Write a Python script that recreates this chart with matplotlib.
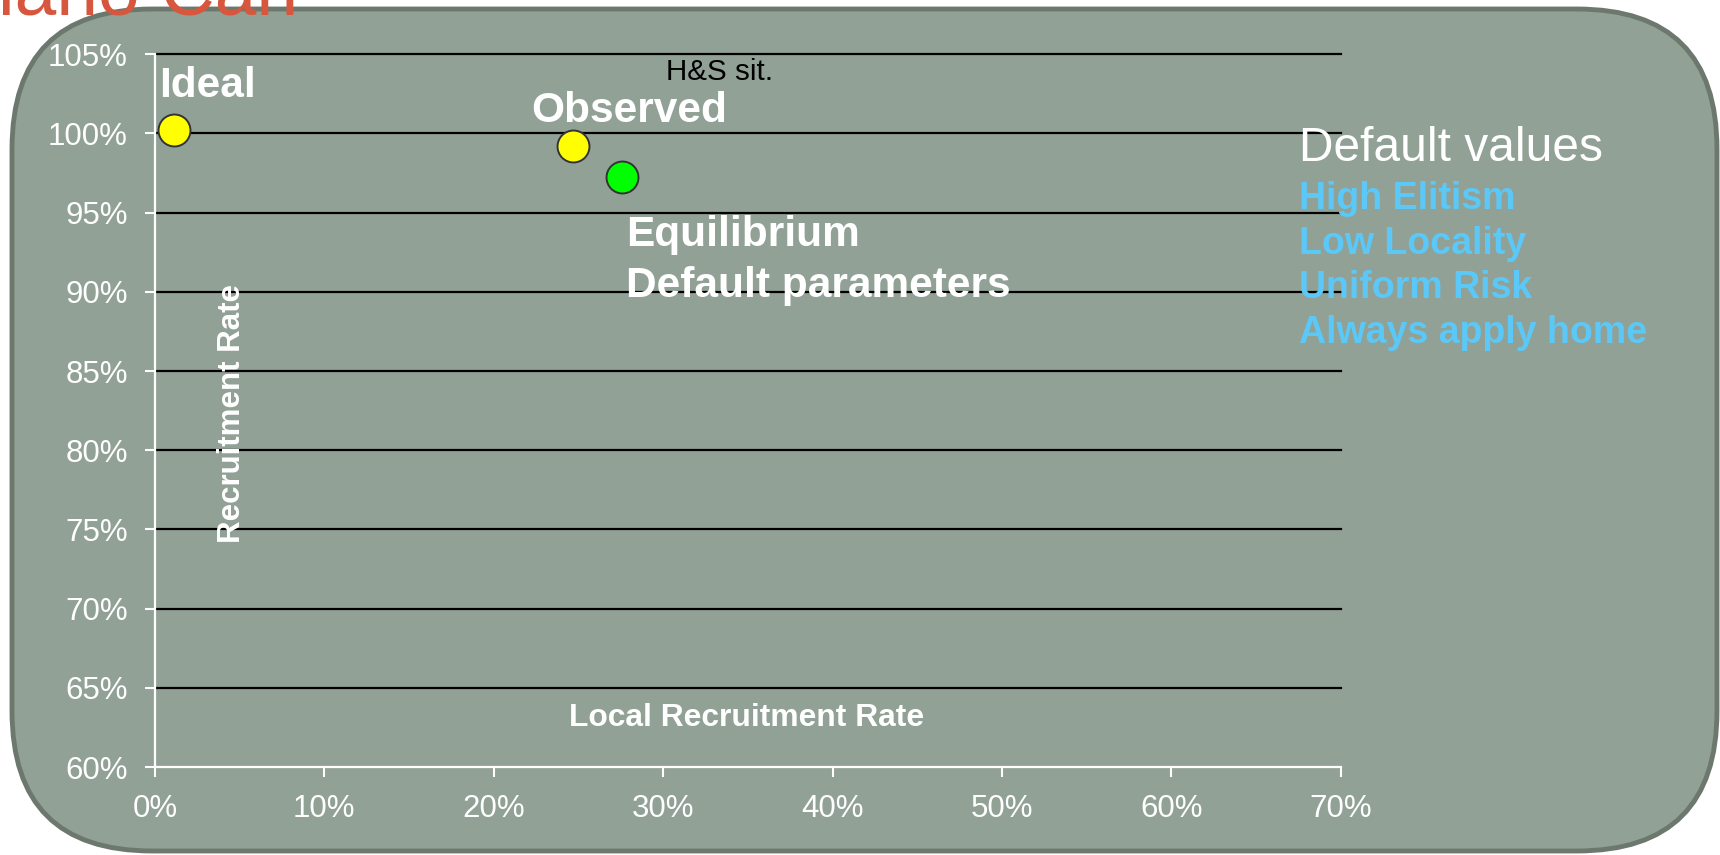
import matplotlib
matplotlib.use("Agg")
import matplotlib.pyplot as plt
from matplotlib.patches import FancyBboxPatch
from matplotlib.ticker import FuncFormatter

plt.rcParams["font.family"] = ["Liberation Sans", "DejaVu Sans"]

# pontos da simulação (taxa local x taxa de recrutamento, em %)
nomes = ["Ideal", "Observed", "Equilibrium"]
taxa_local = [1.1, 24.7, 27.55]
taxa_recrut = [100.2, 99.2, 97.25]
cores = ["#FFFF00", "#FFFF00", "#00FF00"]

xticks = [0, 10, 20, 30, 40, 50, 60, 70]
yticks = [60, 65, 70, 75, 80, 85, 90, 95, 100, 105]

padroes = ["High Elitism", "Low Locality", "Uniform Risk", "Always apply home"]

fundo = "#91A196"
borda = "#6C786E"
azul = "#5BC8F7"

fig = plt.figure(figsize=(17.2, 8.55), dpi=100)
fig.patch.set_facecolor("white")

# caixa arredondada de fundo, em pixels
bg = fig.add_axes([0, 0, 1, 1])
bg.set_xlim(0, 1720)
bg.set_ylim(855, 0)
bg.axis("off")
bg.add_patch(FancyBboxPatch((12, 9), 1705, 842,
                            boxstyle="round,pad=0,rounding_size=140",
                            fc=fundo, ec=borda, lw=3.5))

fig.text(-0.001, 0.9825, "iano Carr", color="#D6573D", fontsize=54,
         ha="left", va="baseline")

ax = fig.add_axes([0.0901, 0.1029, 0.6894, 0.8336])
ax.set_facecolor("none")
ax.set_xlim(0, 70)
ax.set_ylim(60, 105)
ax.set_xticks(xticks)
ax.set_yticks(yticks)
pct = FuncFormatter(lambda v, p: f"{v:.0f}%")
ax.xaxis.set_major_formatter(pct)
ax.yaxis.set_major_formatter(pct)

for v in yticks[1:]:
    ax.axhline(v, color="black", lw=1.6, clip_on=False, zorder=1)

for s in ["top", "right"]:
    ax.spines[s].set_visible(False)
for s in ["left", "bottom"]:
    ax.spines[s].set_color("white")
    ax.spines[s].set_linewidth(1.6)
    ax.spines[s].set_zorder(2)

ax.tick_params(colors="white", labelsize=22.5, length=7.5, width=1.5,
               pad=12, direction="out")

for i in range(len(nomes)):
    ax.plot(taxa_local[i], taxa_recrut[i], "o", ms=23, mfc=cores[i],
            mec="#333333", mew=1.4, clip_on=False, zorder=5)

negrito = dict(color="white", fontsize=30.5, fontweight="bold", va="baseline")
ax.text(0.25, 102.3, "Ideal", **negrito)
ax.text(22.2, 100.75, "Observed", **negrito)
ax.text(27.8, 92.9, "Equilibrium", **negrito)
ax.text(27.8, 89.7, "Default parameters", **negrito)
ax.text(30.15, 103.4, "H&S sit.", color="black", fontsize=21.3, va="baseline")

ax.text(34.9, 62.6, "Local Recruitment Rate", color="white", fontsize=22.9,
        fontweight="bold", ha="center", va="baseline")
ax.text(4.56, 82.3, "Recruitment Rate", color="white", fontsize=22.5,
        fontweight="bold", rotation=90, ha="center", va="center")

fig.text(0.7552, 0.812, "Default values", color="white", fontsize=34.5,
         va="baseline")
for i, t in enumerate(padroes):
    fig.text(0.7552, 0.756 - i * 0.0525, t, color=azul, fontsize=27,
             fontweight="bold", va="baseline")

fig.savefig("out.png", dpi=100)
